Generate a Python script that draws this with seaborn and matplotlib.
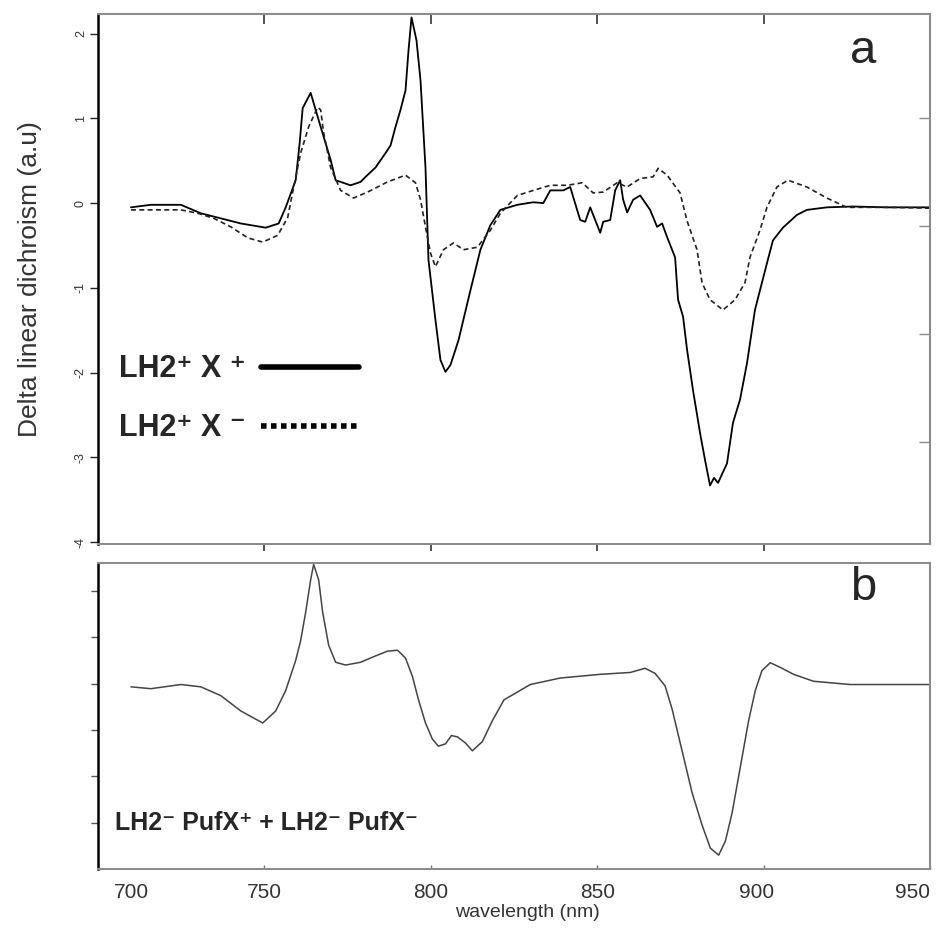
import numpy as np
import pandas as pd
import seaborn as sns
import matplotlib.pyplot as plt
import matplotlib.transforms as mtransforms
from matplotlib.lines import Line2D

sns.set_style('ticks')
plt.rcParams['font.family'] = ['Liberation Sans', 'DejaVu Sans']

# panel a: LH2+ X+ (solid)
wl_plus = [709.9, 715.9, 724.9, 730.9, 742.9, 750.4, 754.3, 756.4, 759.4, 760.6, 761.5, 763.9,
           766.9, 769.9, 771.4, 775.9, 778.9, 780.4, 783.4, 786.4, 787.9, 789.4, 790.9, 792.4,
           793.3, 794.2, 795.7, 796.9, 798.4, 799.3, 801.4, 802.9, 804.4, 805.9, 808.3, 811.9,
           814.9, 817.9, 820.9, 826.0, 830.8, 833.8, 835.9, 839.8, 841.9, 842.8, 844.9, 846.4,
           847.9, 850.9, 851.8, 853.9, 855.4, 856.9, 857.8, 859.0, 860.8, 862.9, 865.9, 868.0,
           869.5, 871.0, 873.4, 874.3, 875.8, 877.0, 878.8, 880.9, 882.4, 883.9, 885.1, 886.3,
           889.0, 890.8, 892.9, 895.0, 897.4, 898.9, 901.0, 902.8, 905.8, 910.0, 913.0, 919.0,
           926.8, 937.0, 949.9]
ld_plus = [-0.05, -0.02, -0.02, -0.12, -0.24, -0.29, -0.24, -0.05, 0.27, 0.71, 1.12, 1.30,
           0.90, 0.51, 0.27, 0.21, 0.25, 0.31, 0.42, 0.59, 0.68, 0.90, 1.10, 1.33,
           1.80, 2.19, 1.92, 1.45, 0.42, -0.67, -1.38, -1.85, -1.99, -1.91, -1.62, -1.03,
           -0.55, -0.26, -0.08, -0.02, 0.01, 0.00, 0.15, 0.15, 0.19, 0.07, -0.20, -0.22,
           -0.05, -0.35, -0.22, -0.20, 0.15, 0.27, 0.04, -0.11, 0.04, 0.09, -0.08, -0.28,
           -0.24, -0.40, -0.64, -1.14, -1.34, -1.73, -2.21, -2.71, -3.03, -3.33, -3.24, -3.30,
           -3.07, -2.59, -2.32, -1.89, -1.26, -1.03, -0.71, -0.44, -0.29, -0.14, -0.08, -0.05,
           -0.04, -0.05, -0.05]

# panel a: LH2+ X- (dashed)
wl_minus = [709.9, 724.9, 730.0, 734.8, 739.9, 745.0, 749.5, 754.0, 757.0, 758.8, 760.9, 763.3,
            766.0, 766.9, 767.8, 769.9, 772.9, 776.8, 781.0, 787.0, 792.4, 795.4, 796.9, 798.4,
            799.9, 801.4, 803.8, 806.8, 809.8, 814.0, 817.9, 820.9, 826.0, 830.8, 835.9, 841.0,
            845.5, 848.8, 851.8, 856.0, 859.0, 862.9, 866.8, 868.3, 871.0, 874.9, 877.0, 880.0,
            881.5, 883.9, 887.8, 891.4, 894.4, 895.9, 898.9, 901.0, 904.0, 907.3, 913.0, 919.0,
            925.0, 937.9, 949.9]
ld_minus = [-0.08, -0.08, -0.12, -0.18, -0.28, -0.41, -0.46, -0.38, -0.17, 0.19, 0.59, 0.90,
            1.13, 1.10, 0.83, 0.42, 0.15, 0.06, 0.13, 0.25, 0.33, 0.24, 0.04, -0.28,
            -0.59, -0.75, -0.55, -0.47, -0.55, -0.52, -0.32, -0.12, 0.09, 0.15, 0.21, 0.21,
            0.24, 0.12, 0.13, 0.24, 0.19, 0.29, 0.31, 0.41, 0.33, 0.12, -0.21, -0.55,
            -0.94, -1.14, -1.26, -1.14, -0.94, -0.64, -0.32, -0.05, 0.19, 0.27, 0.19, 0.06,
            -0.05, -0.05, -0.06]

# panel b: LH2- PufX+ + LH2- PufX-
wl_sum = [709.9, 715.9, 724.9, 730.9, 736.9, 742.9, 749.5, 753.4, 756.4, 759.4, 760.9, 762.4,
          763.9, 764.8, 766.3, 767.5, 769.3, 771.4, 774.4, 778.9, 783.5, 787.0, 790.0, 792.4,
          794.5, 796.3, 798.4, 800.5, 802.3, 804.4, 806.2, 808.0, 810.4, 812.5, 815.5, 818.5,
          822.0, 829.9, 838.9, 850.9, 859.9, 864.4, 867.4, 870.4, 872.5, 875.5, 878.5, 881.5,
          884.0, 886.5, 888.5, 890.5, 893.0, 895.5, 897.5, 899.5, 902.0, 905.0, 909.0, 915.0,
          926.0, 949.9]
ld_sum = [-0.07, -0.11, -0.02, -0.07, -0.26, -0.59, -0.85, -0.59, -0.15, 0.50, 0.93, 1.54,
          2.24, 2.57, 2.24, 1.54, 0.83, 0.46, 0.40, 0.46, 0.60, 0.70, 0.72, 0.55,
          0.15, -0.35, -0.85, -1.20, -1.35, -1.30, -1.12, -1.15, -1.28, -1.45, -1.25, -0.80,
          -0.35, -0.02, 0.12, 0.20, 0.24, 0.33, 0.22, -0.05, -0.55, -1.45, -2.35, -3.05,
          -3.55, -3.70, -3.40, -2.80, -1.80, -0.80, -0.15, 0.28, 0.45, 0.35, 0.20, 0.05,
          -0.02, -0.02]

xticks = [700, 750, 800, 850, 900, 950]
yticks_a = [-4, -3, -2, -1, 0, 1, 2]

fig = plt.figure(figsize=(9.36, 9.40), dpi=100)
ax1 = fig.add_axes([0.1047, 0.4213, 0.8889, 0.5638])
ax2 = fig.add_axes([0.1047, 0.0755, 0.8889, 0.3255])

sns.lineplot(x=wl_plus, y=ld_plus, ax=ax1, color='black', lw=1.3, sort=False)
sns.lineplot(x=wl_minus, y=ld_minus, ax=ax1, color='#222222', lw=1.2, linestyle=(0, (3, 2)), sort=False)
sns.lineplot(x=wl_sum, y=ld_sum, ax=ax2, color='#444444', lw=1.1, sort=False)

for ax in (ax1, ax2):
    ax.set_xlim(700, 950)
    for side in ('top', 'right', 'bottom'):
        ax.spines[side].set_color('#8c8c8c')
        ax.spines[side].set_linewidth(1.5)
    ax.spines['left'].set_color('black')
    ax.spines['left'].set_linewidth(1.8)

# panel a axes
ax1.set_ylim(-4.02, 2.23)
ax1.set_yticks(yticks_a)
ax1.set_yticklabels([str(v) for v in yticks_a], rotation=90, va='center', fontsize=9, color='#333333')
ax1.tick_params(axis='y', direction='out', length=6, width=1, pad=2)
ax1.set_xticks([750, 800, 850, 900])
ax1.tick_params(axis='x', direction='out', length=5, width=1.2, labelbottom=False, colors='#333333')
ax1.set_ylabel('Delta linear dichroism (a.u)', fontsize=19, color='#333333', labelpad=24)
ax1.set_xlabel('')
top = ax1.secondary_xaxis('top')
top.set_xticks([750, 800, 850, 900])
top.tick_params(direction='in', length=7, width=1.2, labeltop=False, colors='#333333')
top.spines['top'].set_visible(False)
ax1r = ax1.twinx()
ax1r.set_ylim(-2.94, 1.96)
ax1r.set_yticks([-2, -1, 0, 1])
ax1r.tick_params(axis='y', direction='in', length=8, width=1, labelright=False, colors='#8c8c8c')
for side in ax1r.spines.values():
    side.set_visible(False)
ax1.text(0.92, 0.93, 'a', transform=ax1.transAxes, fontsize=34, ha='center', va='center')

handles = [Line2D([], [], color='black', lw=4),
           Line2D([], [], color='black', lw=4, linestyle=(0, (1.0, 0.8)))]
ax1.legend(handles, ['LH2\u207a X \u207a', 'LH2\u207a X \u207b'], loc='center left',
           bbox_to_anchor=(0.0, 0.274), frameon=False, markerfirst=False,
           prop={'size': 22, 'weight': 'bold'}, handlelength=3.2, handletextpad=0.5,
           labelspacing=0.95, borderaxespad=0.3)

# panel b axes
ax2.set_ylim(-4.0, 2.6)
ax2.set_yticks([-3, -2, -1, 0, 1, 2])
ax2.tick_params(axis='y', direction='out', length=5, width=1, labelleft=False, colors='#555555')
ax2.set_xticks(xticks)
ax2.set_xticklabels([str(v) for v in xticks], fontsize=15, color='#333333')
ax2.tick_params(axis='x', direction='in', length=3, width=1, pad=10, colors='#777777', labelcolor='#333333')
ax2.set_xlabel('wavelength (nm)', fontsize=14, color='#333333')
ax2.xaxis.set_label_coords(0.516, -0.115)
ax2.set_ylabel('')
label_shift = {0: 0.33, 4: -0.07, 5: -0.18}
for i, lbl in enumerate(ax2.get_xticklabels()):
    if i in label_shift:
        lbl.set_transform(lbl.get_transform() +
                          mtransforms.ScaledTranslation(label_shift[i], 0, fig.dpi_scale_trans))
ax2.text(0.92, 0.92, 'b', transform=ax2.transAxes, fontsize=34, ha='center', va='center')
ax2.text(0.02, 0.15, 'LH2\u207b PufX\u207a + LH2\u207b PufX\u207b', transform=ax2.transAxes,
         fontsize=18, fontweight='bold', ha='left', va='center')

fig.savefig('out.png', dpi=100)
